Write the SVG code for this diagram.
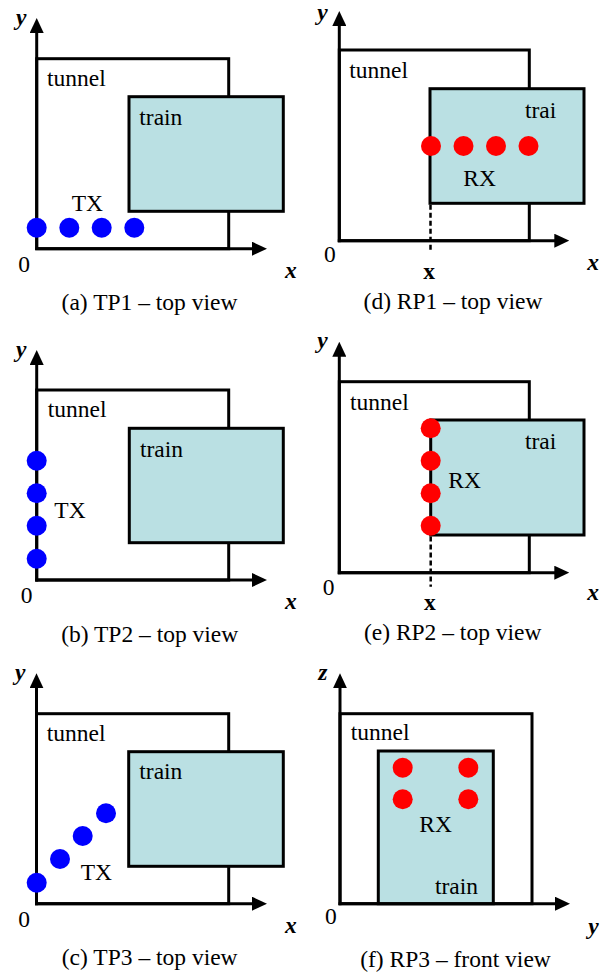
<svg xmlns="http://www.w3.org/2000/svg" width="602" height="974" viewBox="0 0 602 974">
<style>
.ln{stroke:#000;stroke-width:3;fill:none}
.tun{stroke:#000;stroke-width:3;fill:none}
.trn{stroke:#000;stroke-width:3;fill:#bae0e3}
.ax{stroke:#000;stroke-width:3;fill:none;marker-end:url(#ah)}
.dash{stroke:#000;stroke-width:2.5;stroke-dasharray:5 3;fill:none}
.tx{fill:#0000ff}
.rx{fill:#ff0000}
text{font-family:"Liberation Serif","Times New Roman",serif;font-size:23.5px;fill:#000}
.axl{font-weight:bold;font-style:italic}
.bx{font-weight:bold}
.cap{text-anchor:middle}
</style>
<defs>
<marker id="ah" viewBox="0 0 15 14" markerWidth="15" markerHeight="14" refX="2" refY="7" orient="auto" markerUnits="userSpaceOnUse">
<path d="M0,0 L15,7 L0,14 z" fill="#000"/>
</marker>
</defs>

<g id="panel-a">
<rect id="a-tunnel" class="tun" x="36.7" y="58.7" width="192" height="190"/>
<rect id="a-train" class="trn" x="129" y="96.7" width="154.3" height="114.6"/>
<g id="a-axes">
<line class="ax" x1="36.7" y1="250" x2="36.7" y2="31"/>
<line class="ax" x1="35.2" y1="248.7" x2="254" y2="248.7"/>
</g>
<g id="a-tx">
<circle class="tx" cx="36.7" cy="227.7" r="10"/>
<circle class="tx" cx="69.3" cy="227.7" r="10"/>
<circle class="tx" cx="101.7" cy="227.7" r="10"/>
<circle class="tx" cx="134.3" cy="227.7" r="10"/>
</g>
<text x="47" y="86">tunnel</text>
<text x="139.3" y="125">train</text>
<text x="71.7" y="210.7">TX</text>
<text x="18.3" y="271.7">0</text>
<text class="axl" x="16" y="25">y</text>
<text class="axl" x="285" y="278">x</text>
<text class="cap" x="149.5" y="310">(a) TP1 – top view</text>
</g>

<g id="panel-d">
<rect id="d-tunnel" class="tun" x="339.3" y="50" width="190" height="190.7"/>
<rect id="d-train" class="trn" x="430" y="88.7" width="154" height="114.6"/>
<g id="d-axes">
<line class="ax" x1="339.3" y1="242.2" x2="339.3" y2="24"/>
<line class="ax" x1="337.8" y1="240.7" x2="556.3" y2="240.7"/>
<line class="dash" x1="430.5" y1="204.8" x2="430.5" y2="250"/>
</g>
<g id="d-rx">
<circle class="rx" cx="431" cy="146" r="10"/>
<circle class="rx" cx="463.5" cy="146" r="10"/>
<circle class="rx" cx="496" cy="146" r="10"/>
<circle class="rx" cx="528.5" cy="146" r="10"/>
</g>
<text x="349.3" y="78.3">tunnel</text>
<text x="525" y="118.3">trai</text>
<text x="463.3" y="186">RX</text>
<text x="324" y="261.7">0</text>
<text class="bx" x="423.3" y="279">x</text>
<text class="axl" x="587.3" y="270">x</text>
<text class="axl" x="317.3" y="20" font-size="22">y</text>
<text class="cap" x="453" y="309">(d) RP1 – top view</text>
</g>

<g id="panel-b">
<rect id="b-tunnel" class="tun" x="36.7" y="390" width="192" height="190"/>
<rect id="b-train" class="trn" x="129.3" y="428.3" width="154" height="114.4"/>
<g id="b-axes">
<line class="ax" x1="36.7" y1="581.5" x2="36.7" y2="363"/>
<line class="ax" x1="35.2" y1="580" x2="254" y2="580"/>
</g>
<g id="b-tx">
<circle class="tx" cx="36.7" cy="460.7" r="10"/>
<circle class="tx" cx="36.7" cy="493.3" r="10"/>
<circle class="tx" cx="36.7" cy="525.7" r="10"/>
<circle class="tx" cx="36.7" cy="558.7" r="10"/>
</g>
<text x="47.7" y="417.3">tunnel</text>
<text x="140" y="456.7">train</text>
<text x="54.3" y="518.3">TX</text>
<text x="20.7" y="602.7">0</text>
<text class="axl" x="16" y="356.7">y</text>
<text class="axl" x="285" y="609.3">x</text>
<text class="cap" x="149.7" y="641.7">(b) TP2 – top view</text>
</g>

<g id="panel-e">
<rect id="e-tunnel" class="tun" x="339.3" y="381.7" width="190" height="191"/>
<rect id="e-train" class="trn" x="430.7" y="420" width="153.3" height="115"/>
<g id="e-axes">
<line class="ax" x1="339.3" y1="574.2" x2="339.3" y2="354.7"/>
<line class="ax" x1="337.8" y1="572.7" x2="556.3" y2="572.7"/>
<line class="dash" x1="430.7" y1="536.5" x2="430.7" y2="586.7"/>
</g>
<g id="e-rx">
<circle class="rx" cx="430.7" cy="428.3" r="10"/>
<circle class="rx" cx="430.7" cy="460.7" r="10"/>
<circle class="rx" cx="430.7" cy="493.3" r="10"/>
<circle class="rx" cx="430.7" cy="525.7" r="10"/>
</g>
<text x="350" y="410">tunnel</text>
<text x="525" y="449.3">trai</text>
<text x="448.3" y="488.3">RX</text>
<text x="322.7" y="595">0</text>
<text class="bx" x="424" y="610">x</text>
<text class="axl" x="587.3" y="600">x</text>
<text class="axl" x="317.3" y="348">y</text>
<text class="cap" x="452.7" y="640">(e) RP2 – top view</text>
</g>

<g id="panel-c">
<rect id="c-tunnel" class="tun" x="36.5" y="713.7" width="192.2" height="190"/>
<rect id="c-train" class="trn" x="128.7" y="751.7" width="154.6" height="114.6"/>
<g id="c-axes">
<line class="ax" x1="36.5" y1="905.2" x2="36.5" y2="686.3"/>
<line class="ax" x1="35" y1="903.7" x2="254" y2="903.7"/>
</g>
<g id="c-tx">
<circle class="tx" cx="36.7" cy="882.7" r="10"/>
<circle class="tx" cx="60" cy="859" r="10"/>
<circle class="tx" cx="82.7" cy="836" r="10"/>
<circle class="tx" cx="106" cy="813.3" r="10"/>
</g>
<text x="46.7" y="741">tunnel</text>
<text x="139.3" y="779">train</text>
<text x="80.7" y="880">TX</text>
<text x="18.3" y="926.7">0</text>
<text class="axl" x="15" y="680">y</text>
<text class="axl" x="285" y="933.3">x</text>
<text class="cap" x="149.7" y="965">(c) TP3 – top view</text>
</g>

<g id="panel-f">
<rect id="f-tunnel" class="tun" x="340" y="713.7" width="192" height="190"/>
<rect id="f-train" class="trn" x="378.3" y="751" width="115" height="152.7"/>
<g id="f-axes">
<line class="ax" x1="340" y1="905.2" x2="340" y2="686.3"/>
<line class="ax" x1="338.5" y1="903.7" x2="557" y2="903.7"/>
</g>
<g id="f-rx">
<circle class="rx" cx="402.7" cy="767.7" r="10"/>
<circle class="rx" cx="468.3" cy="767.7" r="10"/>
<circle class="rx" cx="402.7" cy="799.3" r="10"/>
<circle class="rx" cx="468.3" cy="799.3" r="10"/>
</g>
<text x="350.7" y="740">tunnel</text>
<text x="419.3" y="832.3">RX</text>
<text x="435" y="894.3">train</text>
<text x="325" y="924.3">0</text>
<text class="axl" x="588.3" y="934">y</text>
<text class="axl" x="318.3" y="680">z</text>
<text class="cap" x="455.5" y="966.7">(f) RP3 – front view</text>
</g>
</svg>
